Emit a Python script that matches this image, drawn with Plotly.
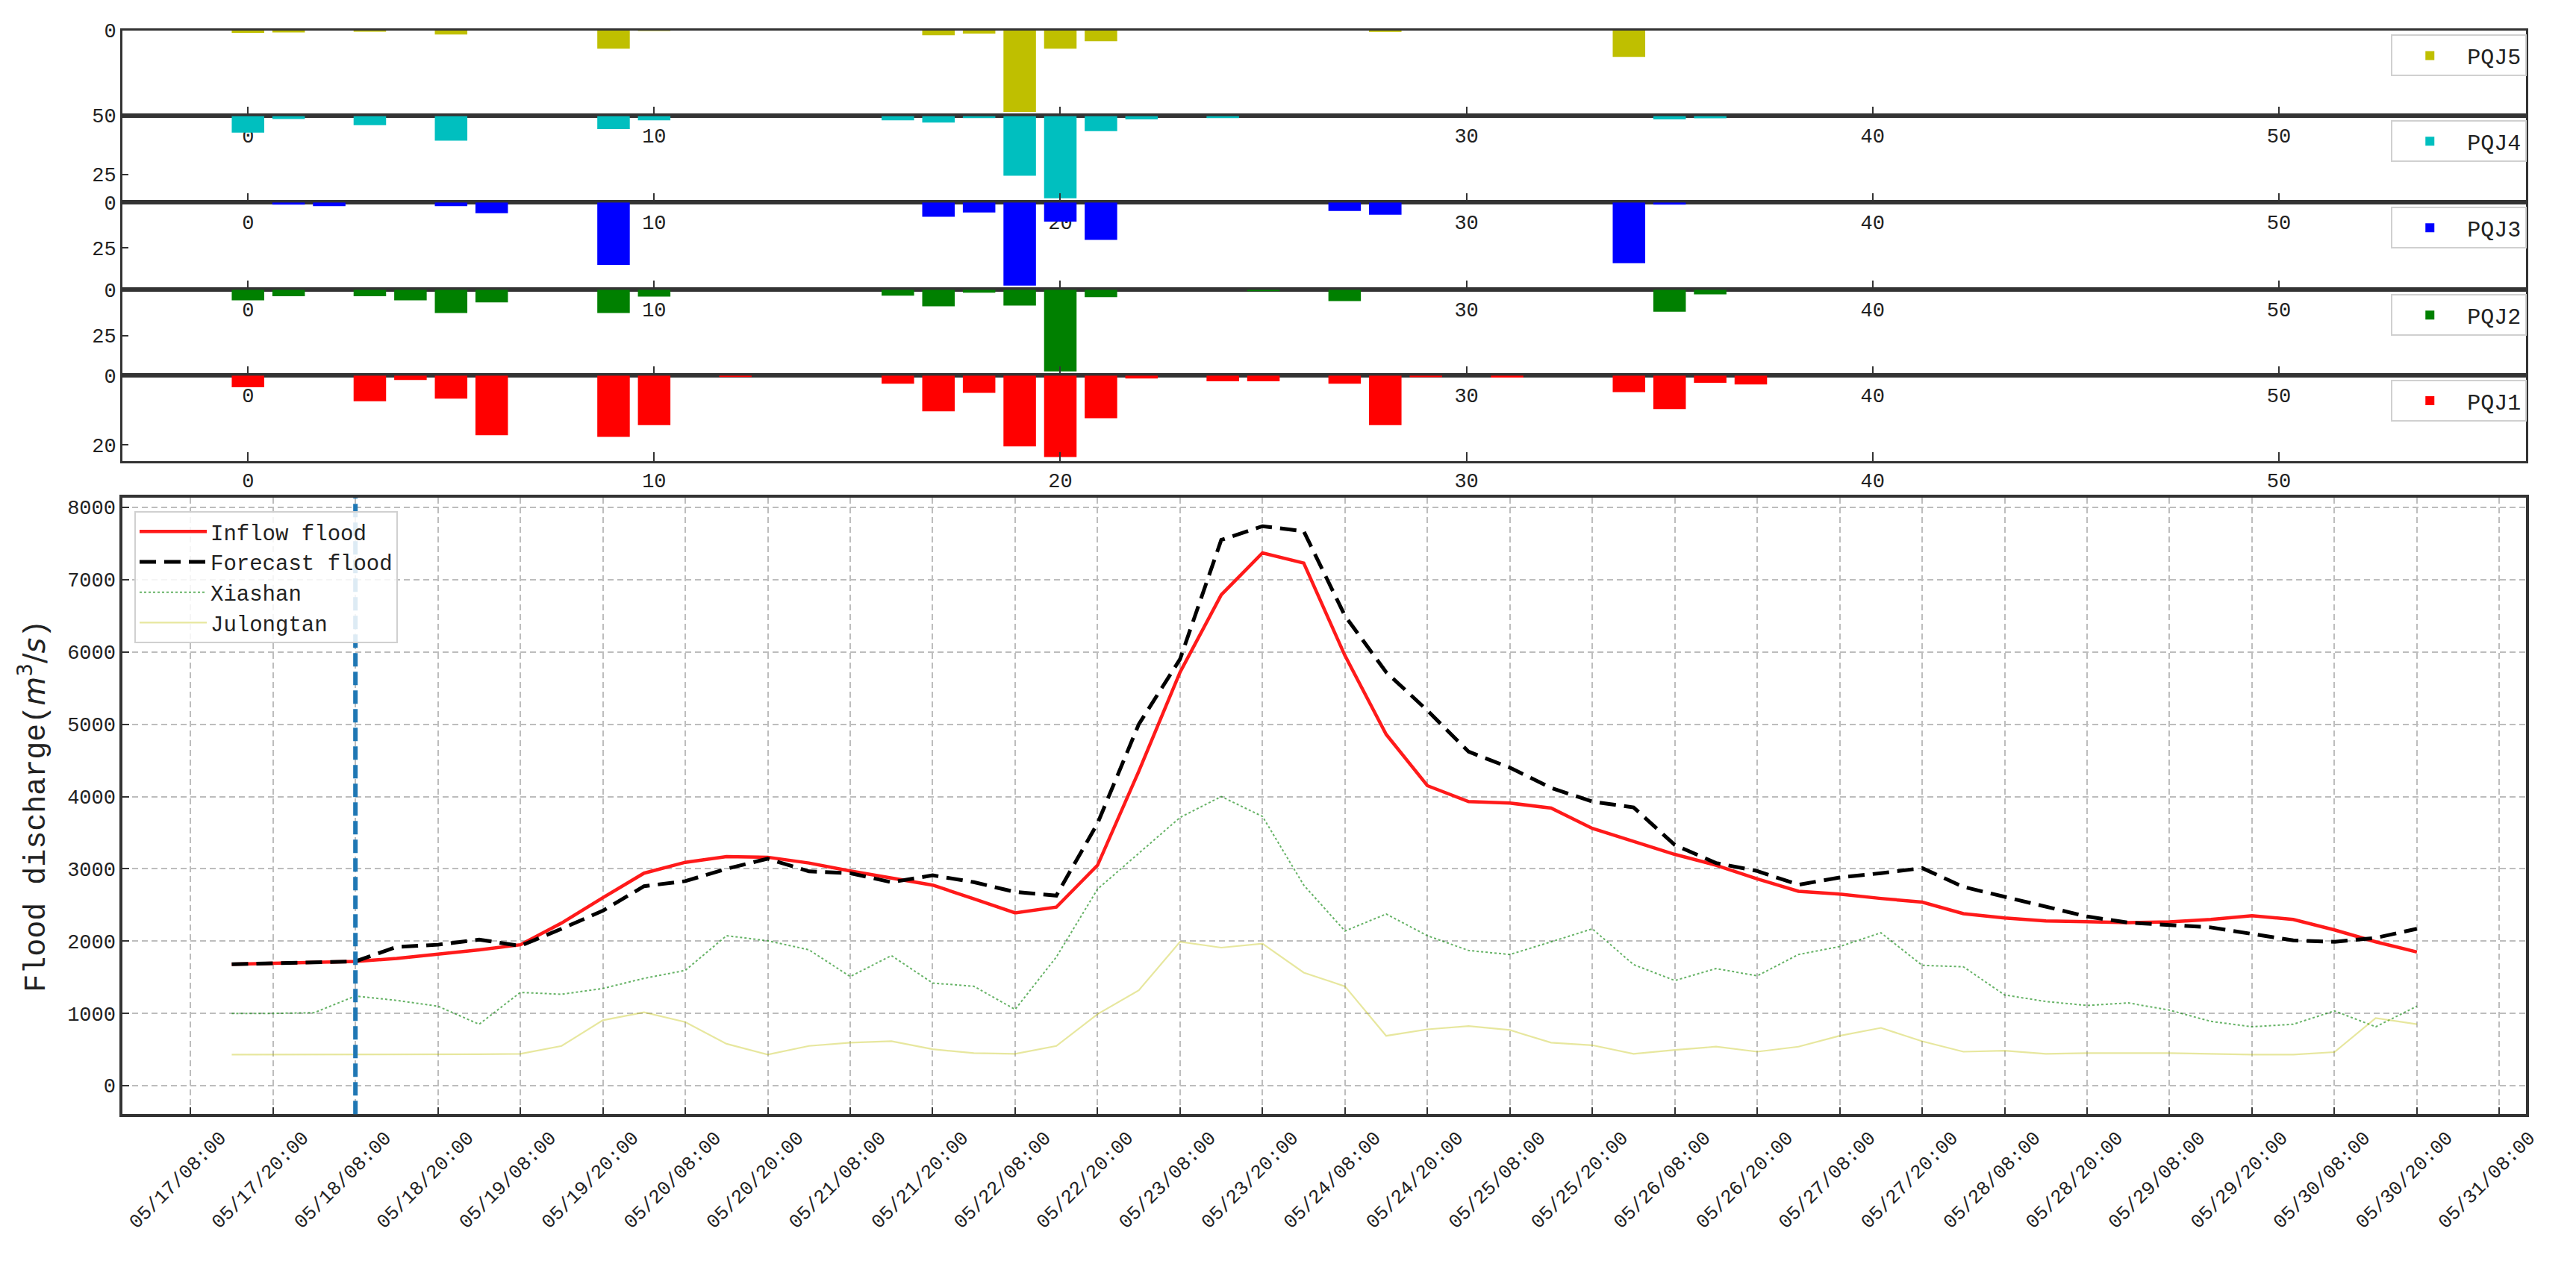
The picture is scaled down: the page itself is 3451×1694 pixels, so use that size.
import plotly.graph_objects as go
import pandas as pd

# ---------------- data ----------------
times = pd.date_range("2020-05-17 14:00", periods=54, freq="6h")

inflow = [1680, 1690, 1700, 1720, 1760, 1815, 1880, 1950, 2250, 2600,
          2940, 3090, 3170, 3160, 3080, 2970, 2870, 2775, 2585, 2390,
          2470, 3050, 4350, 5720, 6790, 7370, 7230, 5950, 4860, 4150,
          3930, 3910, 3840, 3560, 3380, 3200, 3050, 2860, 2690, 2650,
          2590, 2540, 2380, 2320, 2280, 2265, 2255, 2265, 2300, 2350,
          2300, 2155, 1990, 1850]
forecast = [1680, 1690, 1700, 1720, 1920, 1950, 2020, 1935, 2170, 2420,
            2760, 2830, 3000, 3140, 2965, 2940, 2815, 2910, 2815, 2680,
            2630, 3630, 5000, 5900, 7550, 7740, 7670, 6500, 5720, 5190,
            4620, 4400, 4120, 3930, 3850, 3330, 3080, 2970, 2780, 2880,
            2940, 3010, 2750, 2610, 2470, 2340, 2255, 2225, 2190, 2100,
            2010, 1990, 2045, 2170]
xiashan = [1000, 1000, 1010, 1240, 1180, 1100, 850, 1290, 1265, 1345,
           1485, 1595, 2075, 2005, 1880, 1510, 1800, 1420, 1375, 1055,
           1780, 2720, 3215, 3710, 4000, 3725, 2775, 2140, 2375, 2075,
           1870, 1815, 1990, 2170, 1675, 1455, 1620, 1520, 1815, 1925,
           2115, 1665, 1645, 1255, 1165, 1110, 1145, 1045, 890, 815,
           850, 1035, 815, 1100]
julongtan = [430, 430, 430, 430, 430, 430, 435, 440, 550, 905,
             1015, 880, 580, 430, 550, 595, 615, 505, 450, 440,
             550, 990, 1320, 1990, 1910, 1965, 1565, 1375, 690, 780,
             825, 770, 595, 560, 440, 495, 540, 470, 540, 690,
             800, 615, 470, 485, 440, 450, 450, 450, 440, 430,
             430, 465, 935, 850]

bar_index = list(range(38))
pqj5 = [1.5, 1.3, 0, 0.5, 0, 2.5, 0, 0, 0, 10.8,
        0.3, 0, 0, 0, 0, 0, 0, 3.0, 2.0, 48.0,
        10.8, 6.5, 0, 0, 0, 0, 0, 0, 1.0, 0,
        0, 0, 0, 0, 15.7, 0, 0, 0]
pqj4 = [7.1, 1.3, 0, 3.9, 0, 10.6, 0, 0, 0, 5.6,
        1.9, 0, 0, 0, 0, 0, 1.9, 2.8, 0.9, 25.6,
        35.3, 6.5, 1.5, 0, 0.9, 0, 0, 0, 0, 0,
        0, 0, 0, 0, 0, 1.5, 1.0, 0]
pqj3 = [0, 1.2, 2.0, 0, 0, 2.0, 5.9, 0, 0, 34.3,
        0, 0, 0, 0, 0, 0, 0, 7.9, 5.5, 45.7,
        10.5, 20.6, 0, 0, 0, 0, 0, 4.7, 6.7, 0,
        0, 0, 0, 0, 33.4, 1.2, 0, 0]
pqj2 = [5.8, 3.6, 0, 3.6, 5.8, 12.7, 6.9, 0, 0, 12.7,
        3.8, 0, 0, 0, 0, 0, 3.3, 9.0, 1.6, 8.6,
        44.4, 4.1, 0, 0, 0, 0.5, 0, 6.2, 0, 0,
        0, 0, 0, 0, 0, 12.0, 2.5, 0]
pqj1 = [3.4, 0, 0, 7.4, 1.3, 6.7, 17.2, 0, 0, 17.7,
        14.3, 0, 0.3, 0, 0, 0, 2.4, 10.3, 5.0, 20.4,
        23.5, 12.3, 0.9, 0, 1.7, 1.7, 0, 2.4, 14.3, 0.5,
        0, 0.6, 0, 0, 4.8, 9.7, 2.1, 2.6]

bar_names = ["PQJ5", "PQJ4", "PQJ3", "PQJ2", "PQJ1"]
bar_series = [pqj5, pqj4, pqj3, pqj2, pqj1]
bar_colors = ["#bfbf00", "#00bfbf", "#0000ff", "#008000", "#ff0000"]
# PQJ4's "0" sits exactly under PQJ5's "50" in the reference, so only 25 is drawn there
bar_yticks = [[0, 50], [25], [0, 25], [0, 25], [0, 20]]
bar_xticks = [0, 10, 20, 30, 40, 50]

series_names = ["Inflow flood", "Forecast flood", "Xiashan", "Julongtan"]
forecast_start = "2020-05-18 08:00"

# ---------------- layout geometry (pixels) ----------------
W, H = 3451, 1694
FONT = "Liberation Mono"
X_DOM = [165 / W, 3403 / W]
panel_px = [(28, 145), (145, 263), (263, 382), (382, 499), (499, 616)]
main_px = (666, 1507)
AX = "#333333"


def ydom(top, bot):
    return [1 - bot / H, 1 - top / H]


fig = go.Figure()
layout = dict(
    width=W, height=H,
    margin=dict(l=0, r=0, t=0, b=0),
    paper_bgcolor="white", plot_bgcolor="white",
    showlegend=True,
    font=dict(family=FONT, size=27, color="black"),
)

for k, (name, vals, color, yt, (top, bot)) in enumerate(
        zip(bar_names, bar_series, bar_colors, bar_yticks, panel_px), start=1):
    xa = "x" if k == 1 else f"x{k}"
    ya = "y" if k == 1 else f"y{k}"
    lg = f"legend{k + 1}"
    fig.add_trace(go.Bar(
        x=bar_index, y=vals, width=0.8, name=name,
        marker=dict(color=color, line=dict(width=0)),
        xaxis=xa, yaxis=ya, legend=lg, showlegend=True,
    ))
    sfx = "" if k == 1 else str(k)
    layout[f"xaxis{sfx}"] = dict(
        domain=X_DOM, anchor=ya, range=[-3.09, 56.09],
        tickmode="array", tickvals=bar_xticks,
        ticks="inside", ticklen=12, tickwidth=2, tickcolor=AX,
        showline=True, mirror=True, linecolor=AX, linewidth=3,
        showgrid=False, zeroline=False,
        tickfont=dict(family=FONT, size=27, color="#222"),
    )
    layout[f"yaxis{sfx}"] = dict(
        domain=ydom(top, bot), anchor=xa,
        range=[1.05 * max(vals), 0],
        tickmode="array", tickvals=yt,
        ticks="inside", ticklen=8, tickwidth=2, tickcolor=AX,
        showline=True, mirror=True, linecolor=AX, linewidth=3,
        showgrid=False, zeroline=False,
        tickfont=dict(family=FONT, size=27, color="#222"),
    )
    layout[lg] = dict(
        x=3404 / W, y=1 - (top + 6) / H, xanchor="right", yanchor="top",
        bgcolor="rgba(255,255,255,0.85)", bordercolor="#d0d0d0", borderwidth=2,
        font=dict(family=FONT, size=30, color="#222"), itemwidth=90,
    )

# ---------------- main discharge plot ----------------
line_styles = [
    dict(color="#ff1a1a", width=4.5),
    dict(color="black", width=5, dash="22px,11px"),
    dict(color="rgba(0,128,0,0.6)", width=2, dash="3px,3px"),
    dict(color="rgba(191,191,0,0.38)", width=2.2),
]
for name, vals, st in zip(series_names, [inflow, forecast, xiashan, julongtan], line_styles):
    fig.add_trace(go.Scatter(
        x=times, y=vals, mode="lines", name=name, line=st,
        xaxis="x6", yaxis="y6", legend="legend",
    ))

step = pd.Timedelta(hours=6)
x_start = times[0] - 2.65 * step
x_end = times[-1] + 2.65 * step

layout["xaxis6"] = dict(
    domain=X_DOM, anchor="y6", type="date",
    range=[x_start, x_end],
    tick0="2020-05-17 08:00", dtick=12 * 3600 * 1000,
    tickformat="%m/%d/%H:%M", tickangle=-45,
    ticklabelshift=40, ticklabelstandoff=2,
    ticks="inside", ticklen=10, tickwidth=2, tickcolor=AX,
    showline=True, mirror=True, linecolor=AX, linewidth=3.5,
    showgrid=True, gridcolor="#bdbdbd", gridwidth=2, griddash="8px,5px",
    zeroline=False,
    tickfont=dict(family=FONT, size=26, color="#222"),
)
layout["yaxis6"] = dict(
    domain=ydom(*main_px), anchor="x6",
    range=[-395, 8132], tick0=0, dtick=1000,
    ticks="inside", ticklen=9, tickwidth=2, tickcolor=AX,
    showline=True, mirror=True, linecolor=AX, linewidth=3.5,
    showgrid=True, gridcolor="#bdbdbd", gridwidth=2, griddash="8px,5px",
    zeroline=False,
    tickfont=dict(family=FONT, size=27, color="#222"),
    title=dict(
        text="Flood discharge(<span style=\"font-family:DejaVu Sans\"><i>m</i><sup>3</sup>/<i>s</i></span>)",
        font=dict(family=FONT, size=40, color="#222"), standoff=18,
    ),
)
layout["legend"] = dict(
    x=181 / W, y=1 - 684 / H, xanchor="left", yanchor="top",
    bgcolor="rgba(255,255,255,0.85)", bordercolor="#d0d0d0", borderwidth=2,
    font=dict(family=FONT, size=29, color="#222"), itemwidth=90,
    tracegroupgap=0,
)

layout["shapes"] = [dict(
    type="line", xref="x6", yref="y6 domain",
    x0=forecast_start, x1=forecast_start, y0=0, y1=1,
    line=dict(color="#1f77b4", width=6, dash="18px,7px"),
)]

fig.update_layout(**layout)
fig.write_html(
    "out.html",
    config={"displayModeBar": False},
    post_script="document.body.style.margin='0';",
)
